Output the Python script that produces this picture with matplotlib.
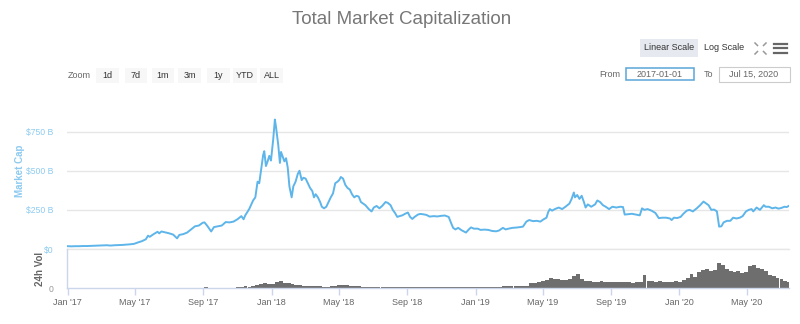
import numpy as np
import pandas as pd
import matplotlib
matplotlib.use('Agg')
import matplotlib.pyplot as plt
import matplotlib.dates as mdates
from matplotlib.patches import Rectangle
from matplotlib.lines import Line2D

# total market cap, billions USD
cap_dates = [
    "2017-01-01", "2017-01-08", "2017-01-15", "2017-01-22", "2017-01-29", "2017-02-05", "2017-02-12",
    "2017-02-19", "2017-02-26", "2017-03-05", "2017-03-12", "2017-03-19", "2017-03-26", "2017-04-02",
    "2017-04-09", "2017-04-16", "2017-04-23", "2017-04-30", "2017-05-07", "2017-05-14", "2017-05-21",
    "2017-05-25", "2017-05-28", "2017-06-04", "2017-06-11", "2017-06-14", "2017-06-18", "2017-06-25",
    "2017-07-02", "2017-07-09", "2017-07-16", "2017-07-20", "2017-07-27", "2017-08-03", "2017-08-10",
    "2017-08-17", "2017-08-24", "2017-08-31", "2017-09-03", "2017-09-08", "2017-09-15", "2017-09-20",
    "2017-09-27", "2017-10-04", "2017-10-11", "2017-10-18", "2017-10-25", "2017-11-01", "2017-11-08",
    "2017-11-12", "2017-11-15", "2017-11-22", "2017-11-29", "2017-12-03", "2017-12-07", "2017-12-10",
    "2017-12-14", "2017-12-17", "2017-12-19", "2017-12-22", "2017-12-25", "2017-12-28", "2017-12-31",
    "2018-01-04", "2018-01-07", "2018-01-09", "2018-01-11", "2018-01-13", "2018-01-16", "2018-01-18",
    "2018-01-21", "2018-01-24", "2018-01-27", "2018-01-30", "2018-02-02", "2018-02-06", "2018-02-09",
    "2018-02-13", "2018-02-17", "2018-02-20", "2018-02-24", "2018-02-27", "2018-03-03", "2018-03-07",
    "2018-03-11", "2018-03-15", "2018-03-18", "2018-03-21", "2018-03-25", "2018-03-29", "2018-04-01",
    "2018-04-05", "2018-04-09", "2018-04-13", "2018-04-17", "2018-04-21", "2018-04-25", "2018-04-29",
    "2018-05-02", "2018-05-05", "2018-05-09", "2018-05-13", "2018-05-17", "2018-05-21", "2018-05-25",
    "2018-05-29", "2018-06-02", "2018-06-06", "2018-06-10", "2018-06-14", "2018-06-18", "2018-06-24",
    "2018-06-29", "2018-07-03", "2018-07-08", "2018-07-13", "2018-07-18", "2018-07-24", "2018-07-28",
    "2018-08-02", "2018-08-06", "2018-08-10", "2018-08-14", "2018-08-18", "2018-08-23", "2018-08-28",
    "2018-09-02", "2018-09-06", "2018-09-10", "2018-09-14", "2018-09-20", "2018-09-24", "2018-09-29",
    "2018-10-05", "2018-10-11", "2018-10-18", "2018-10-25", "2018-11-01", "2018-11-07", "2018-11-14",
    "2018-11-19", "2018-11-22", "2018-11-26", "2018-12-01", "2018-12-07", "2018-12-15", "2018-12-20",
    "2018-12-24", "2018-12-29", "2019-01-05", "2019-01-10", "2019-01-17", "2019-01-24", "2019-01-31",
    "2019-02-07", "2019-02-12", "2019-02-19", "2019-02-24", "2019-03-01", "2019-03-08", "2019-03-15",
    "2019-03-22", "2019-03-27", "2019-04-02", "2019-04-07", "2019-04-14", "2019-04-21", "2019-04-27",
    "2019-05-03", "2019-05-08", "2019-05-11", "2019-05-14", "2019-05-18", "2019-05-23", "2019-05-30",
    "2019-06-05", "2019-06-11", "2019-06-18", "2019-06-22", "2019-06-26", "2019-06-28", "2019-07-02",
    "2019-07-06", "2019-07-10", "2019-07-14", "2019-07-17", "2019-07-21", "2019-07-27", "2019-08-03",
    "2019-08-07", "2019-08-12", "2019-08-17", "2019-08-22", "2019-08-28", "2019-09-03", "2019-09-10",
    "2019-09-17", "2019-09-22", "2019-09-25", "2019-10-01", "2019-10-08", "2019-10-15", "2019-10-22",
    "2019-10-26", "2019-10-30", "2019-11-05", "2019-11-12", "2019-11-19", "2019-11-25", "2019-12-01",
    "2019-12-08", "2019-12-15", "2019-12-18", "2019-12-22", "2019-12-28", "2020-01-03", "2020-01-08",
    "2020-01-14", "2020-01-19", "2020-01-25", "2020-02-01", "2020-02-07", "2020-02-13", "2020-02-18",
    "2020-02-22", "2020-02-27", "2020-03-03", "2020-03-08", "2020-03-12", "2020-03-16", "2020-03-20",
    "2020-03-26", "2020-04-01", "2020-04-06", "2020-04-12", "2020-04-18", "2020-04-23", "2020-04-29",
    "2020-05-04", "2020-05-09", "2020-05-12", "2020-05-18", "2020-05-24", "2020-05-31", "2020-06-03",
    "2020-06-09", "2020-06-15", "2020-06-21", "2020-06-26", "2020-07-01", "2020-07-07", "2020-07-11",
    "2020-07-15",
]
cap_values = [
    18, 17, 18, 18, 19, 19, 20,
    21, 22, 23, 24, 22, 24, 25,
    26, 28, 30, 33, 42, 50, 62,
    85, 78, 95, 110, 100, 112, 106,
    100, 92, 68, 90, 95, 105, 125,
    145, 150, 168, 170, 148, 112, 140,
    145, 150, 172, 170, 175, 190, 210,
    190, 215, 255, 310, 330, 430, 420,
    520, 600, 625, 530, 560, 595, 565,
    700, 827, 780, 720, 665, 550, 620,
    590, 560, 580, 520, 400, 330, 400,
    430, 480, 500, 440, 455, 450, 420,
    390, 370, 330, 350, 330, 300, 270,
    260, 270, 300, 330, 355, 420, 430,
    440, 460, 450, 410, 390, 380, 350,
    330, 340, 335, 300, 290, 280, 255,
    240, 265, 275, 260, 275, 300, 295,
    280, 250, 230, 205, 210, 215, 225,
    233, 205, 192, 205, 220, 224, 222,
    218, 207, 210, 208, 212, 214, 205,
    160, 135, 125, 135, 120, 105, 125,
    138, 130, 130, 122, 124, 122, 115,
    113, 118, 135, 125, 130, 135, 137,
    140, 143, 175, 185, 178, 180, 175,
    190, 200, 235, 255, 245, 255, 265,
    255, 270, 290, 320, 361, 330, 345,
    320, 340, 300, 265, 285, 270, 285,
    310, 300, 280, 270, 255, 270, 265,
    270, 268, 220, 222, 225, 220, 215,
    260, 250, 255, 245, 230, 197, 200,
    200, 195, 185, 200, 198, 205, 225,
    245, 250, 240, 260, 280, 303, 290,
    280, 250, 252, 240, 143, 145, 170,
    180, 180, 200, 195, 200, 210, 240,
    250, 255, 240, 265, 250, 280, 270,
    270, 260, 265, 258, 262, 270, 268,
    276,
]

# weekly 24h volume, billions USD, one list per year (weeks start on Sunday)
vol_2017 = [0.4, 0.3, 0.3, 0.3, 0.3,  0.3, 0.3, 0.4, 0.4,  0.5, 0.6, 0.7, 0.6,
            0.6, 0.6, 0.7, 0.9, 1.0,  1.2, 1.5, 2.0, 2.5,  2.2, 2.8, 2.5, 2.0,
            1.8, 1.5, 1.6, 2.0, 1.8,  2.0, 2.5, 3.0, 2.8,  3.5, 2.5, 3.0, 2.0,
            2.2, 2.5, 3.0, 3.2, 3.5,  6, 10, 8, 12,  18, 25, 32, 28, 24]
vol_2018 = [40, 45, 35, 30,  28, 22, 20, 16,  14, 13, 12, 10,  9, 9, 11, 14, 18,
            22, 18, 14, 11,  10, 9, 8, 8,  8, 7, 7, 9, 8,  7, 7, 6, 6,
            6, 5, 5, 5, 5,  5, 5, 4, 4,  5, 5, 7, 9,  7, 6, 6, 7, 7]
vol_2019 = [7, 8, 7, 7,  8, 9, 10, 12,  12, 13, 14, 14, 16,  33, 35, 38, 45,
            50, 65, 55, 58,  52, 50, 55, 80, 90,  55, 45, 42, 40,  40, 42, 38, 36,
            36, 38, 36, 40, 36,  35, 38, 36, 85,  42, 45, 40, 42,  40, 38, 38, 42, 40]
vol_2020 = [50, 62, 90, 70,  105, 115, 125, 110,  115, 160, 150, 120, 110,
            100, 110, 95, 105,  140, 150, 130, 120, 110,  85, 75, 65, 55,  42, 40]

tick_months = [1, 5, 9]

cap_x = pd.to_datetime(cap_dates)
vol_x = pd.date_range("2017-01-01", periods=len(vol_2017), freq="7D")
vol_x = vol_x.append(pd.date_range("2018-01-07", periods=len(vol_2018), freq="7D"))
vol_x = vol_x.append(pd.date_range("2019-01-06", periods=len(vol_2019), freq="7D"))
vol_x = vol_x.append(pd.date_range("2020-01-05", periods=len(vol_2020), freq="7D"))
vol_values = vol_2017 + vol_2018 + vol_2019 + vol_2020

W, H = 800, 324
plt.rcParams['font.family'] = ['Liberation Sans', 'DejaVu Sans']
fig = plt.figure(figsize=(W / 100, H / 100), dpi=100)
fig.patch.set_facecolor('white')


def fx(x):
    return x / W


def fy(y):
    return 1 - y / H


left, right = 67, 789
ax = fig.add_axes([fx(left), fy(249), fx(right - left), fy(105) - fy(249)])
axv = fig.add_axes([fx(left), fy(288), fx(right - left), fy(249) - fy(288)], sharex=ax)

line_col = '#5db5ea'
label_blue = '#8ccaf0'
grey_txt = '#666666'

ax.plot(cap_x, cap_values, color=line_col, lw=1.4, solid_joinstyle='round')
ax.set_ylim(0, 920)
ax.set_yticks([0, 250, 500, 750])
ax.set_yticklabels(['$0', '$250 B', '$500 B', '$750 B'], color=label_blue, fontsize=6.2)
ax.grid(axis='y', color='#e6e6e6', lw=1)
ax.tick_params(axis='y', length=0, pad=10)
ax.tick_params(axis='x', length=0, labelbottom=False)
for s in ax.spines.values():
    s.set_visible(False)
ax.set_ylabel('Market Cap', color=label_blue, fontsize=7, fontweight='bold')
ax.yaxis.set_label_coords(-0.058, 0.54)

axv.bar(vol_x, vol_values, width=7, align='edge', color='#6e6e6e', lw=0)
axv.set_ylim(0, 250)
axv.set_yticks([0])
axv.set_yticklabels(['0'], color='#999999', fontsize=6.2)
axv.tick_params(axis='y', length=0, pad=10)
axv.set_ylabel('24h Vol', color=grey_txt, fontsize=7, fontweight='bold')
axv.yaxis.set_label_coords(-0.0305, 0.5)
for s in ['top', 'right']:
    axv.spines[s].set_visible(False)
axv.spines['left'].set_color('#ccd6eb')
axv.spines['bottom'].set_color('#ccd6eb')
axv.spines['left'].set_linewidth(1)
axv.spines['bottom'].set_linewidth(1)
axv.axhline(250, color='#e6e6e6', lw=1, clip_on=False)

axv.xaxis.set_major_locator(mdates.MonthLocator(bymonth=tick_months))
axv.xaxis.set_major_formatter(mdates.DateFormatter("%b '%y"))
axv.tick_params(axis='x', colors='#ccd6eb', length=5, width=1, labelcolor=grey_txt,
                labelsize=6.5, pad=2)
ax.set_xlim(pd.Timestamp("2016-12-31"), pd.Timestamp("2020-07-15"))

# title
fig.text(fx(402), fy(20), 'Total Market Capitalization', ha='center', va='center',
         fontsize=13.5, color='#777777')

# range selector buttons
fig.text(fx(68), fy(75), 'Zoom', ha='left', va='center', fontsize=6.5, color=grey_txt)
buttons = [('1d', 96, 119), ('7d', 125, 147), ('1m', 152, 174), ('3m', 178, 201),
           ('1y', 207, 230), ('YTD', 233, 257), ('ALL', 260, 283)]
for lbl, x0, x1 in buttons:
    fig.patches.append(Rectangle((fx(x0), fy(83)), fx(x1 - x0), fy(68) - fy(83),
                                 transform=fig.transFigure, facecolor='#f7f7f7',
                                 edgecolor='none'))
    fig.text(fx((x0 + x1) / 2), fy(75.5), lbl, ha='center', va='center', fontsize=6.5,
             color='#333333')

# scale buttons
fig.patches.append(Rectangle((fx(640), fy(57)), fx(58), fy(39) - fy(57),
                             transform=fig.transFigure, facecolor='#e6e9ef',
                             edgecolor='none'))
fig.text(fx(669), fy(48), 'Linear Scale', ha='center', va='center', fontsize=6.5, color='#333333')
fig.text(fx(724), fy(48), 'Log Scale', ha='center', va='center', fontsize=6.5, color='#333333')

# fullscreen icon: four small outward corner marks
icx0, icx1, icy0, icy1 = 755, 766, 43, 54
c = 2.5
for (cx, cy), (dx, dy) in [((icx0, icy0), (1, 1)), ((icx1, icy0), (-1, 1)),
                           ((icx0, icy1), (1, -1)), ((icx1, icy1), (-1, -1))]:
    fig.lines.append(Line2D([fx(cx), fx(cx + dx * c)], [fy(cy), fy(cy + dy * c)],
                            transform=fig.transFigure, color='#999999', lw=1.1))
# menu icon
for yy in [43.5, 48, 52.5]:
    fig.lines.append(Line2D([fx(774), fx(787)], [fy(yy), fy(yy)], transform=fig.transFigure,
                            color='#666666', lw=1.6))

# date inputs
fig.text(fx(610), fy(74.5), 'From', ha='center', va='center', fontsize=6.5, color=grey_txt)
fig.patches.append(Rectangle((fx(626), fy(80)), fx(68), fy(68) - fy(80),
                             transform=fig.transFigure, facecolor='white',
                             edgecolor='#5aa5d8', lw=1.1))
fig.text(fx(660), fy(74.5), '2017-01-01', ha='center', va='center', fontsize=6.5, color=grey_txt)
fig.text(fx(709), fy(74.5), 'To', ha='center', va='center', fontsize=6.5, color=grey_txt)
fig.patches.append(Rectangle((fx(719), fy(82)), fx(71), fy(67) - fy(82),
                             transform=fig.transFigure, facecolor='white',
                             edgecolor='#cccccc', lw=0.8))
fig.text(fx(754), fy(74.5), 'Jul 15, 2020', ha='center', va='center', fontsize=6.5, color=grey_txt)

fig.savefig('out.png', dpi=100)
